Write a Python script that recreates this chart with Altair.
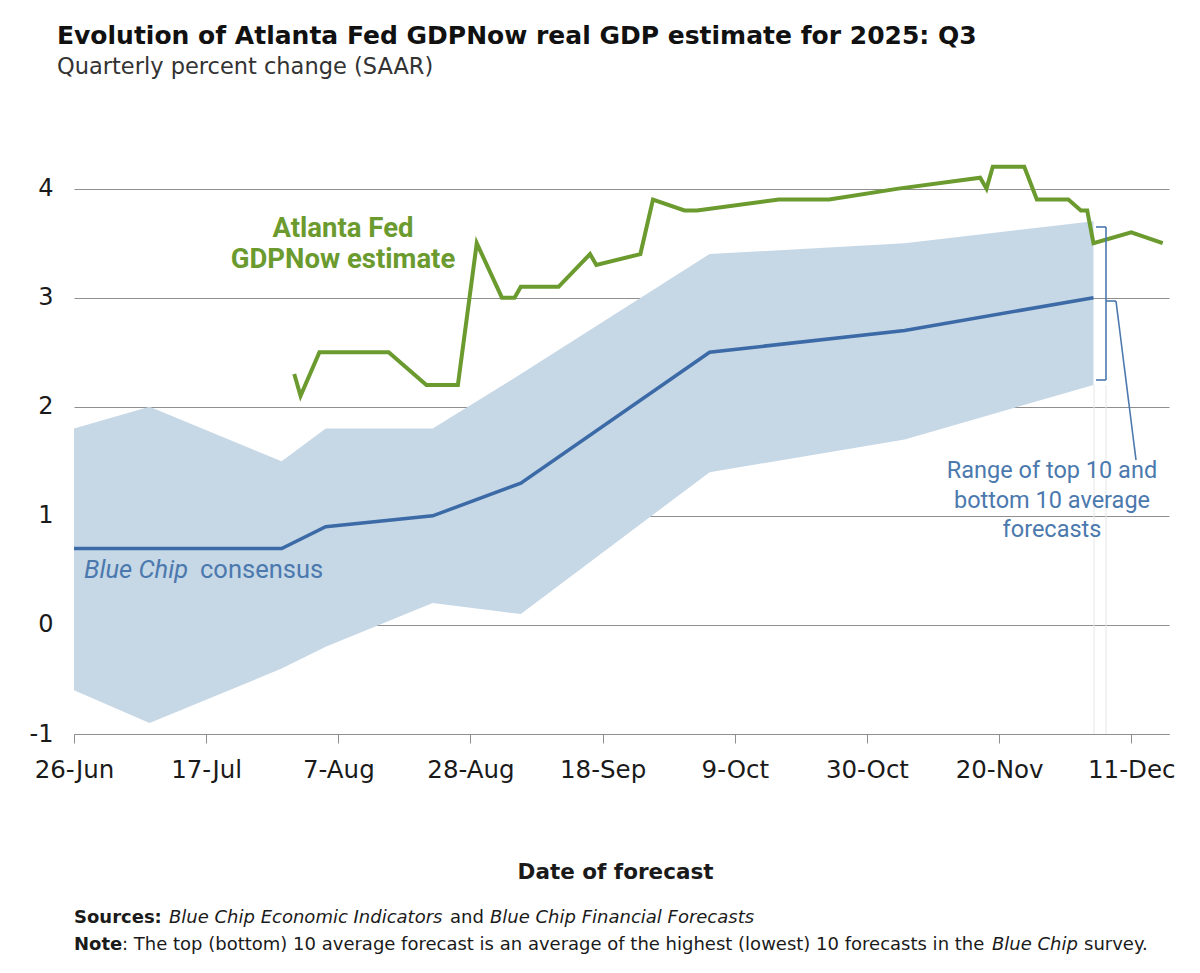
import altair as alt
import pandas as pd

WIDE = "DejaVu Sans"      # title, axes, footer
ANN = "Roboto"            # in-chart annotations

# ---- Data ----
# Blue Chip survey dates, consensus and range of top/bottom 10 averages
bc_dates = ["2025-06-26", "2025-07-08", "2025-07-29", "2025-08-05", "2025-08-22",
            "2025-09-05", "2025-10-05", "2025-11-05", "2025-12-05"]
bc_consensus = [0.7, 0.7, 0.7, 0.9, 1.0, 1.3, 2.5, 2.7, 3.0]
bc_top10 = [1.8, 2.0, 1.5, 1.8, 1.8, 2.3, 3.4, 3.5, 3.7]
bc_bottom10 = [-0.6, -0.9, -0.4, -0.2, 0.2, 0.1, 1.4, 1.7, 2.2]

# Atlanta Fed GDPNow estimates
gdpnow_dates = ["2025-07-31", "2025-08-01", "2025-08-04", "2025-08-15", "2025-08-21",
                "2025-08-26", "2025-08-29", "2025-09-02", "2025-09-04", "2025-09-05",
                "2025-09-11", "2025-09-16", "2025-09-17", "2025-09-24", "2025-09-26",
                "2025-10-01", "2025-10-03", "2025-10-16", "2025-10-24", "2025-11-04",
                "2025-11-17", "2025-11-18", "2025-11-19", "2025-11-24", "2025-11-26",
                "2025-12-01", "2025-12-03", "2025-12-04", "2025-12-05", "2025-12-11",
                "2025-12-16"]
gdpnow_values = [2.3, 2.1, 2.5, 2.5, 2.2,
                 2.2, 3.5, 3.0, 3.0, 3.1,
                 3.1, 3.4, 3.3, 3.4, 3.9,
                 3.8, 3.8, 3.9, 3.9, 4.0,
                 4.1, 4.0, 4.2, 4.2, 3.9,
                 3.9, 3.8, 3.8, 3.5, 3.6,
                 3.5]

# Axis ticks
x_tick_dates = [(2025, 6, 26), (2025, 7, 17), (2025, 8, 7), (2025, 8, 28), (2025, 9, 18),
                (2025, 10, 9), (2025, 10, 30), (2025, 11, 20), (2025, 12, 11)]
x_domain = [(2025, 6, 26), (2025, 12, 17)]
y_ticks = [-1, 0, 1, 2, 3, 4]
y_domain = [-1, 4.4]

# ---- Tables ----
bc = pd.DataFrame({
    "date": [d + "T00:00:00" for d in bc_dates],
    "consensus": bc_consensus,
    "top10": bc_top10,
    "bottom10": bc_bottom10,
})
gn = pd.DataFrame({
    "date": [d + "T00:00:00" for d in gdpnow_dates],
    "gdpnow": gdpnow_values,
})

GREEN = "#6b9a2e"
BLUE = "#3b6aa6"
BAND = "#c6d7e6"
ANNOT = "#4b79ae"
GRID = "#8f8f8f"
TEXT = "#1a1a1a"


def dt(t):
    return alt.DateTime(year=t[0], month=t[1], date=t[2])


x_enc = alt.X(
    "date:T",
    scale=alt.Scale(domain=[dt(t) for t in x_domain]),
    axis=alt.Axis(
        values=[dt(t) for t in x_tick_dates],
        format="%-d-%b",
        title="Date of forecast",
        grid=False,
        domainColor=GRID,
        tickColor=GRID,
        tickSize=9,
        labelFontSize=24.5,
        labelPadding=15,
        labelColor=TEXT,
        labelFont=WIDE,
        titleFont=WIDE,
        titleFontSize=21.5,
        titleFontWeight="bold",
        titleColor=TEXT,
        titlePadding=80,
        titleX=541,
        titleAlign="center",
        labelFlush=False,
    ),
)


def y_enc(field):
    return alt.Y(
        field,
        type="quantitative",
        scale=alt.Scale(domain=y_domain, nice=False, zero=False),
        axis=alt.Axis(
            values=y_ticks,
            labelExpr="'' + datum.value",
            title=None,
            grid=True,
            gridColor=GRID,
            gridWidth=1,
            domain=False,
            ticks=False,
            tickSize=0,
            labelPadding=21,
            labelFontSize=24,
            labelColor=TEXT,
            labelFont=WIDE,
        ),
    )


band = alt.Chart(bc).mark_area(color=BAND, opacity=1).encode(
    x=x_enc, y=y_enc("top10"), y2="bottom10:Q"
)

consensus = alt.Chart(bc).mark_line(color=BLUE, strokeWidth=3.5).encode(
    x=x_enc, y=y_enc("consensus")
)

gdpnow = alt.Chart(gn).mark_line(color=GREEN, strokeWidth=4).encode(
    x=x_enc, y=y_enc("gdpnow")
)

one = alt.Data(values=[{}])


def label(text, x, y, size, font, color=TEXT, align="left", weight="normal",
          style="normal", line_height=None):
    kw = dict(text=text, align=align, baseline="alphabetic", font=font, fontSize=size,
              color=color, fontWeight=weight, fontStyle=style)
    if line_height is not None:
        kw["lineHeight"] = line_height
    return alt.Chart(one).mark_text(**kw).encode(x=alt.value(x), y=alt.value(y))


def seg(x, y, x2, y2, color=ANNOT, width=1.6):
    return alt.Chart(one).mark_rule(color=color, strokeWidth=width).encode(
        x=alt.value(x), y=alt.value(y), x2=alt.value(x2), y2=alt.value(y2)
    )


FS = 18  # footer size
annotations = [
    # faint guide lines below the band's end
    seg(1020, 240, 1020, 589, color="#e6e6e6", width=1),
    seg(1032, 240, 1032, 589, color="#e6e6e6", width=1),
    # bracket marking the range
    seg(1032, 82, 1032, 235),
    seg(1022, 82, 1032, 82),
    seg(1022, 235, 1032, 235),
    seg(1032, 156, 1042, 156),
    seg(1042, 156, 1062, 315),
    label(["Atlanta Fed", "GDPNow estimate"], 269, 92, 27.5, ANN, color=GREEN,
          align="center", weight="bold", line_height=31),
    label("Blue Chip", 10, 433, 25.5, ANN, color=ANNOT, style="italic"),
    label("consensus", 126, 433, 25.5, ANN, color=ANNOT),
    label(["Range of top 10 and", "bottom 10 average", "forecasts"], 978, 333, 23.5, ANN,
          color=ANNOT, align="center", line_height=29.5),
    # footer
    label("Sources:", 0, 778, FS, WIDE, weight="bold"),
    label("Blue Chip Economic Indicators", 95, 778, FS, WIDE, style="italic"),
    label("and", 376, 778, FS, WIDE),
    label("Blue Chip Financial Forecasts", 416, 778, FS, WIDE, style="italic"),
    label("Note", 0, 805, FS, WIDE, weight="bold"),
    label(": The top (bottom) 10 average forecast is an average of the highest (lowest) "
          "10 forecasts in the", 48, 805, FS, WIDE),
    label("Blue Chip", 918, 805, FS, WIDE, style="italic"),
    label("survey.", 1010, 805, FS, WIDE),
]

chart = alt.layer(band, consensus, gdpnow, *annotations).properties(
    width=1095,
    height=589,
    autosize=alt.AutoSizeParams(type="none"),
    padding={"left": 66, "top": 137, "right": 16, "bottom": 230},
    background="white",
    title=alt.TitleParams(
        text="Evolution of Atlanta Fed GDPNow real GDP estimate for 2025: Q3",
        subtitle="Quarterly percent change (SAAR)",
        anchor="start",
        frame="group",
        dx=-17,
        offset=67,
        font=WIDE,
        fontSize=25,
        fontWeight="bold",
        color="#111111",
        subtitleFont=WIDE,
        subtitleFontSize=22.5,
        subtitleColor="#333333",
        subtitlePadding=7,
    ),
).configure_view(stroke=None)

chart.save("out.html", embed_options={"renderer": "svg", "actions": False})
